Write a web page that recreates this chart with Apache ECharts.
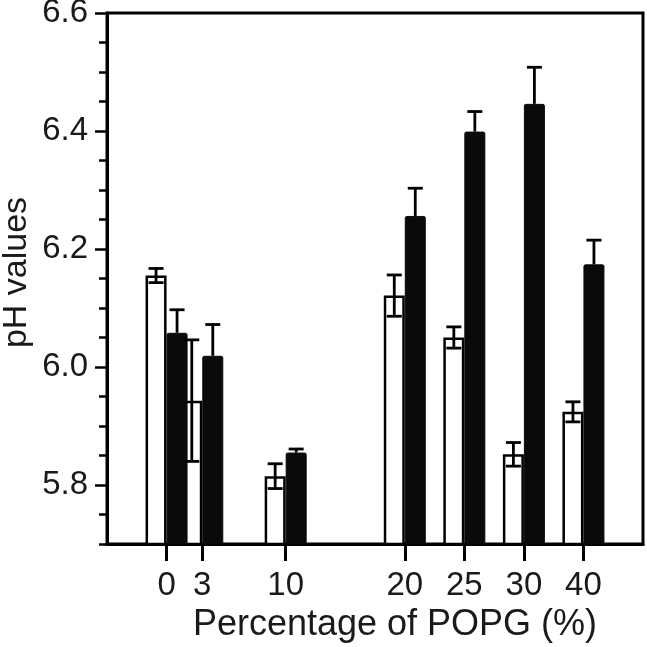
<!DOCTYPE html>
<html>
<head>
<meta charset="utf-8">
<script src="https://cdn.jsdelivr.net/npm/echarts@6/dist/echarts.min.js"></script>
<style>html,body{margin:0;padding:0;background:#fff}#c{width:647px;height:647px}</style>
</head>
<body>
<div id="c"></div>
<script>
// Data
const categories = ['0', '3', '10', '20', '25', '30', '40'];   // tick labels (POPG %)
const xPos = [0, 3, 10, 20, 25, 30, 35];                      // axis placement of each group (40 drawn in compressed slot)
const whiteVals = [6.155, 5.943, 5.815, 6.121, 6.050, 5.852, 5.924];
const whiteErr  = [0.012, 0.103, 0.021, 0.035, 0.018, 0.020, 0.017];
const blackVals = [6.058, 6.019, 5.855, 6.256, 6.399, 6.446, 6.174];
const blackErr  = [0.039, 0.053, 0.006, 0.047, 0.034, 0.062, 0.041];
const yLabelValues = [5.8, 6.0, 6.2, 6.4, 6.6];

const FONT = 'Liberation Sans, Arial, Helvetica, sans-serif';
const TXT = '#1a1a1a';
const BAR_W = 21;

const whiteData = xPos.map((x, i) => [x, whiteVals[i]]);
const blackData = xPos.map((x, i) => [x, blackVals[i]]);
const errData = [];
xPos.forEach((x, i) => {
  errData.push([x, whiteVals[i], whiteErr[i], 0]);
  errData.push([x, blackVals[i], blackErr[i], 1]);
});

const chart = echarts.init(document.getElementById('c'), null, {renderer: 'canvas'});
chart.setOption({
  backgroundColor: '#fff',
  animation: false,
  grid: {left: 107, right: 4, top: 13, bottom: 103, containLabel: false, outerBoundsMode: 'none',
         show: true, borderColor: '#000', borderWidth: 3, backgroundColor: 'transparent'},
  xAxis: {
    type: 'value', min: -5, max: 40,
    splitLine: {show: false},
    axisLine: {show: true, onZero: false, lineStyle: {color: '#000', width: 3}},
    axisTick: {show: true, customValues: xPos, length: 17, lineStyle: {color: '#000', width: 3}},
    axisLabel: {
      customValues: xPos, margin: 25,
      formatter: v => { const i = xPos.indexOf(Math.round(v)); return i >= 0 ? categories[i] : ''; },
      color: TXT, fontSize: 33, fontFamily: FONT
    },
    name: 'Percentage of POPG (%)', nameLocation: 'middle', nameGap: 62,
    nameTextStyle: {color: TXT, fontSize: 36, fontFamily: FONT, padding: [0, 0, 0, 40]}
  },
  yAxis: [{
    type: 'value', min: 5.7, max: 6.6, interval: 0.05, position: 'left',
    splitLine: {show: false},
    axisLine: {show: true, onZero: false, lineStyle: {color: '#000', width: 3}},
    axisTick: {show: true, length: 8, lineStyle: {color: '#000', width: 2.5}},
    axisLabel: {show: false},
    name: 'pH values', nameLocation: 'middle', nameGap: 73,
    nameTextStyle: {color: TXT, fontSize: 34, fontFamily: FONT, padding: [0, 0, 0, 12]}
  }, {
    type: 'value', min: 5.7, max: 6.6, position: 'left', offset: 0,
    splitLine: {show: false},
    axisLine: {show: false, onZero: false},
    axisTick: {show: true, customValues: yLabelValues, length: 12, lineStyle: {color: '#000', width: 2.5}},
    axisLabel: {customValues: yLabelValues, margin: 19, padding: [4, 0, 0, 0], formatter: v => v.toFixed(1), color: TXT, fontSize: 33, fontFamily: FONT}
  }],
  series: [{
    type: 'bar', name: 'white', data: whiteData, barWidth: BAR_W, barGap: '0%',
    itemStyle: {color: '#fff', borderColor: '#000', borderWidth: 2.5}, z: 2
  }, {
    type: 'bar', name: 'black', data: blackData, barWidth: BAR_W, barGap: '0%',
    itemStyle: {color: '#0a0a0a', borderColor: '#0a0a0a', borderWidth: 1, borderRadius: 1.5}, z: 3
  }, {
    type: 'custom', name: 'err', data: errData, z: 4,
    renderItem: function (params, api) {
      const x = api.value(0), v = api.value(1), e = api.value(2), t = api.value(3);
      const off = t === 0 ? -BAR_W / 2 : BAR_W / 2;
      const hi = api.coord([x, v + e]);
      const lo = api.coord([x, t === 0 ? v - e : v]);
      const cx = hi[0] + off;
      const capHalf = 7.5;
      const style = {stroke: '#000', lineWidth: 2.8, fill: null};
      const children = [
        {type: 'line', shape: {x1: cx, y1: hi[1], x2: cx, y2: lo[1]}, style: style},
        {type: 'line', shape: {x1: cx - capHalf, y1: hi[1], x2: cx + capHalf, y2: hi[1]}, style: style}
      ];
      if (t === 0) {
        children.push({type: 'line', shape: {x1: cx - capHalf, y1: lo[1], x2: cx + capHalf, y2: lo[1]}, style: style});
      }
      return {type: 'group', children: children};
    }
  }]
});
</script>
</body>
</html>
